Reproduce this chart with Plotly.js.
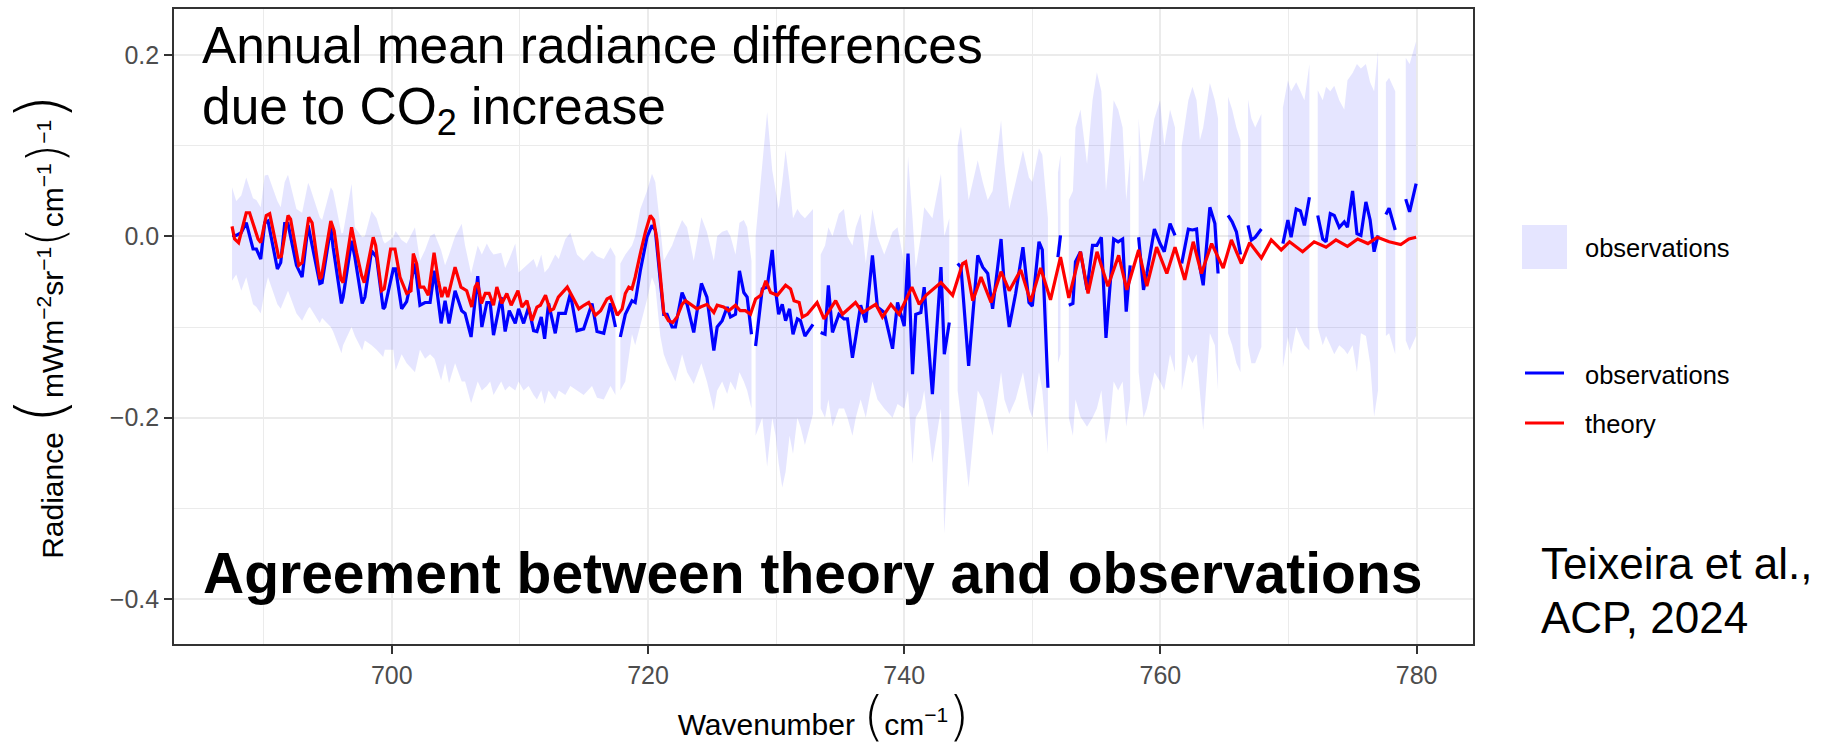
<!DOCTYPE html>
<html>
<head>
<meta charset="utf-8">
<script src="https://cdn.plot.ly/plotly-3.0.1.min.js"></script>
<style>html,body{margin:0;padding:0;background:#fff;}#chart{width:1840px;height:748px;}</style>
</head>
<body>
<div id="chart"></div>
<script>
// ---------- observations (null = missing channel) ----------
const obsX = [
687.53,687.86,688.25,688.64,689.17, 689.43,689.77,690.08,690.34,691.07,
691.33,691.64,691.90,692.56,693.00, 693.47,693.60,694.38,694.56,695.24,
695.42,696.07,696.20,696.86,697.12, 697.69,697.90,698.42,698.81,699.33,
699.46,700.12,700.30,700.77,701.16, 701.81,702.20,702.60,702.99,703.33,
703.85,704.16,704.47,704.94,705.46, 705.72,706.19,706.71,707.03,707.42,
707.68,707.94,708.54,708.85,709.17, 709.64,709.90,710.29,710.68,711.07,
711.33,711.67,711.93,712.24,712.76, 713.03,713.55,713.94,714.46,714.98,
715.63,716.02,716.55,717.07,717.46,
717.65,
717.84,718.23,718.75,719.00,719.40, 719.92,720.31,720.57,720.96,721.23,
721.49,721.88,722.14,722.66,723.05, 723.57,724.17,724.60,725.14,725.40,
725.79,726.18,726.44,726.83,727.14, 727.48,727.74,728.08,
728.24,
728.40,728.92,729.30,729.70,729.96, 730.20,730.48,730.74,731.05,731.32,
731.66,731.90,732.25,732.88,
733.20,
733.48,733.82,734.08,734.40,734.90, 735.30,735.57,735.96,736.22,736.60,
737.00,737.52,737.91,738.44,739.09, 739.48,740.00,740.30,740.65,740.90,
741.30,741.56,742.20,742.87,743.13, 743.52,
743.85,
744.17,744.43,745.03,745.74,746.13, 746.52,746.90,747.56,747.82,748.20,
748.70,749.27,749.74,750.00,750.52, 750.78,751.22,
751.60,
752.00,752.20,
752.50,
752.85,753.17,753.37,753.76,754.27, 754.70,755.04,755.39,755.75,756.09,
756.35,756.70,757.05,757.33,757.64,
757.95,
758.30,758.68,758.94,759.53,759.97, 760.30,760.75,761.14,
761.40,
761.66,762.18,762.50,762.82,763.08, 763.34,763.86,764.25,764.50,
764.90,
765.28,765.60,765.93,766.25,
766.55,
766.84,767.10,767.40,767.88,
768.70,
769.56,769.95,770.20,770.60,770.93, 771.24,771.63,
771.95,
772.28,772.67,772.93,773.26,773.57, 773.96,774.35,774.60,775.00,775.34,
775.65,776.04,776.37,776.68,776.99,
777.30,
777.60,777.85,778.33,
778.75,
779.15,779.45,779.96
];
const obsMean = [
0.001,0.001,0.004,0.015,-0.014, -0.014,-0.025,0.015,0.017,-0.036,
-0.029,0.014,0.014,-0.032,-0.045, 0.012,0.003,-0.052,-0.051,0.010,
-0.012,-0.074,-0.067,-0.005,-0.023, -0.074,-0.067,-0.016,-0.023,-0.080,
-0.078,-0.036,-0.036,-0.080,-0.072, -0.030,-0.076,-0.073,-0.073,-0.038,
-0.096,-0.071,-0.096,-0.060,-0.082, -0.085,-0.111,-0.044,-0.100,-0.073,
-0.073,-0.109,-0.067,-0.105,-0.082, -0.096,-0.080,-0.096,-0.078,-0.104,
-0.105,-0.089,-0.113,-0.074,-0.107, -0.085,-0.085,-0.063,-0.104,-0.102,
-0.074,-0.105,-0.107,-0.074,-0.100,
null,
-0.111,-0.086,-0.071,-0.073,-0.038, -0.001,0.012,0.007,-0.049,-0.086,
-0.086,-0.100,-0.100,-0.062,-0.075, -0.106,-0.052,-0.067,-0.126,-0.100,
-0.093,-0.078,-0.089,-0.086,-0.038, -0.062,-0.067,-0.108,
null,
-0.121,-0.058,-0.056,-0.015,-0.060, -0.086,-0.075,-0.093,-0.080,-0.108,
-0.091,-0.093,-0.110,-0.097,
null,
-0.106,-0.108,-0.054,-0.106,-0.086, -0.091,-0.091,-0.134,-0.111,-0.076,
-0.095,-0.021,-0.078,-0.084,-0.124, -0.073,-0.099,-0.019,-0.152,-0.086,
-0.084,-0.056,-0.174,-0.034,-0.130, -0.095,
null,
-0.030,-0.034,-0.143,-0.021,-0.034, -0.041,-0.080,-0.003,-0.056,-0.100,
-0.063,-0.012,-0.073,-0.077,-0.006, -0.015,-0.167,
null,
-0.023,0.001,
null,
-0.076,-0.074,-0.028,-0.017,-0.059, -0.010,-0.010,-0.001,-0.112,-0.050,
-0.003,-0.006,-0.003,-0.083,-0.032,
null,
-0.001,-0.059,-0.041,0.008,-0.008, -0.017,0.014,0.001,
null,
-0.030,0.008,0.007,0.008,-0.034, -0.054,0.032,0.014,-0.041,
null,
0.023,0.016,0.005,-0.020,
null,
0.012,-0.004,-0.001,0.008,
null,
-0.008,0.018,-0.001,0.030,0.028, 0.012,0.043,
null,
0.023,-0.003,-0.006,0.025,0.023, 0.010,0.016,0.010,0.050,0.003,
0.001,0.038,0.018,-0.017,0.001,
null,
0.024,0.031,0.007,
null,
0.041,0.027,0.058
];
const obsHigh = [
0.054,0.039,0.045,0.065,0.042, 0.040,0.032,0.067,0.068,0.039,
0.032,0.060,0.068,0.030,0.026, 0.059,0.055,0.021,0.018,0.054,
0.050,0.003,0.004,0.058,0.010, -0.001,0.000,0.028,0.020,-0.005,
-0.008,-0.001,0.006,-0.004,-0.008, 0.010,-0.027,-0.015,0.000,0.003,
-0.015,-0.032,-0.020,0.000,0.014, -0.010,-0.041,-0.010,-0.020,-0.008,
-0.015,-0.020,-0.018,-0.035,-0.025, -0.008,-0.040,-0.035,-0.030,-0.025,
-0.035,-0.020,-0.040,-0.035,-0.020, -0.025,-0.003,0.004,-0.020,-0.027,
-0.016,-0.022,-0.025,-0.012,-0.022,
null,
-0.030,-0.020,-0.010,0.000,0.030, 0.050,0.069,0.060,0.010,-0.027,
-0.020,-0.010,0.000,0.018,0.010, -0.027,0.021,0.005,-0.027,0.000,
0.005,0.007,0.000,-0.020,0.015, 0.018,0.010,-0.027,
null,
0.000,0.080,0.137,0.073,0.050, 0.030,0.060,0.095,0.060,0.020,
0.030,0.025,0.020,0.030,
null,
-0.020,-0.010,0.010,0.000,0.025, 0.030,0.000,-0.010,0.010,0.025,
-0.030,0.030,0.000,-0.020,0.005, 0.010,-0.030,0.088,0.020,-0.035,
0.000,0.032,0.020,0.069,0.000, 0.020,
null,
0.100,0.121,0.040,0.084,0.060, 0.040,0.050,0.128,0.080,0.030,
0.060,0.095,0.065,0.060,0.097, 0.090,0.020,
null,
0.070,0.090,
null,
0.040,0.050,0.120,0.140,0.080, 0.150,0.181,0.160,0.050,0.100,
0.150,0.140,0.120,0.040,0.090,
null,
0.130,0.060,0.080,0.130,0.150, 0.100,0.140,0.120,
null,
0.100,0.150,0.165,0.150,0.106, 0.120,0.169,0.150,0.130,
null,
0.154,0.140,0.120,0.106,
null,
0.151,0.130,0.120,0.135,
null,
0.142,0.172,0.160,0.170,0.160, 0.150,0.190,
null,
0.161,0.150,0.165,0.160,0.166, 0.150,0.140,0.172,0.180,0.190,
0.185,0.190,0.170,0.160,0.205,
null,
0.170,0.175,0.160,
null,
0.197,0.190,0.215
];
const obsLow = [
-0.049,-0.042,-0.060,-0.045,-0.075, -0.078,-0.085,-0.060,-0.045,-0.075,
-0.080,-0.070,-0.060,-0.085,-0.093, -0.080,-0.078,-0.096,-0.090,-0.100,
-0.105,-0.129,-0.120,-0.100,-0.110, -0.126,-0.115,-0.120,-0.125,-0.133,
-0.125,-0.125,-0.148,-0.130,-0.140, -0.150,-0.125,-0.135,-0.130,-0.135,
-0.159,-0.140,-0.162,-0.140,-0.160, -0.160,-0.184,-0.160,-0.170,-0.165,
-0.160,-0.175,-0.160,-0.170,-0.165, -0.170,-0.160,-0.170,-0.165,-0.175,
-0.180,-0.170,-0.185,-0.170,-0.180, -0.170,-0.175,-0.165,-0.170,-0.175,
-0.165,-0.178,-0.180,-0.165,-0.175,
null,
-0.170,-0.160,-0.108,-0.120,-0.100, -0.070,-0.045,-0.055,-0.110,-0.130,
-0.140,-0.152,-0.160,-0.130,-0.150, -0.163,-0.140,-0.160,-0.192,-0.170,
-0.160,-0.174,-0.160,-0.170,-0.150, -0.160,-0.170,-0.190,
null,
-0.220,-0.200,-0.254,-0.200,-0.220, -0.250,-0.277,-0.260,-0.220,-0.240,
-0.200,-0.210,-0.230,-0.196,
null,
-0.190,-0.200,-0.180,-0.210,-0.190, -0.190,-0.200,-0.220,-0.200,-0.180,
-0.200,-0.160,-0.180,-0.190,-0.200, -0.185,-0.190,-0.170,-0.251,-0.200,
-0.190,-0.170,-0.250,-0.190,-0.328, -0.220,
null,
-0.170,-0.200,-0.277,-0.170,-0.180, -0.200,-0.220,-0.150,-0.180,-0.196,
-0.180,-0.150,-0.190,-0.200,-0.150, -0.170,-0.240,
null,
-0.140,-0.130,
null,
-0.200,-0.220,-0.180,-0.199,-0.210, -0.200,-0.190,-0.170,-0.229,-0.200,
-0.160,-0.170,-0.160,-0.210,-0.180,
null,
-0.150,-0.200,-0.190,-0.150,-0.160, -0.170,-0.130,-0.150,
null,
-0.170,-0.130,-0.140,-0.130,-0.170, -0.214,-0.107,-0.120,-0.170,
null,
-0.107,-0.120,-0.140,-0.150,
null,
-0.120,-0.140,-0.140,-0.122,
null,
-0.145,-0.111,-0.130,-0.100,-0.110, -0.120,-0.126,
null,
-0.100,-0.120,-0.110,-0.120,-0.130, -0.120,-0.125,-0.130,-0.120,-0.150,
-0.107,-0.110,-0.140,-0.199,-0.170,
null,
-0.110,-0.107,-0.130,
null,
-0.115,-0.126,-0.110
];

// ---------- theory ----------
const theoryX = [
687.53,687.73,688.04,688.64,688.90,689.56,689.77,690.20,690.47,691.17,
691.38,691.90,692.10,692.74,693.00,693.52,693.78,694.38,694.51,695.24,
695.50,696.02,696.20,696.86,697.25,697.64,697.85,698.55,698.74,699.20,
699.41,699.91,700.25,700.64,701.16,701.50,701.68,701.94,702.20,702.50,
702.85,703.30,703.64,703.90,704.16,704.37,704.94,705.40,705.85,706.24,
706.50,706.70,707.00,707.30,707.60,707.94,708.20,708.60,708.98,709.32,
709.85,710.16,710.55,710.94,711.33,711.60,712.00,712.37,712.63,713.00,
713.70,714.20,714.60,715.00,715.37,715.90,716.30,716.80,717.07,717.60,
717.98,718.23,718.50,718.75,719.00,719.40,719.80,720.18,720.44,720.70,
720.96,721.23,721.60,721.93,722.27,722.66,722.92,723.30,723.83,724.10,
724.60,725.14,725.40,725.90,726.30,726.83,727.20,727.60,728.00,728.40,
728.80,729.20,729.57,730.10,730.74,731.13,731.40,731.80,732.05,732.44,
733.20,733.74,734.65,735.18,736.20,736.74,737.78,738.30,738.96,739.60,
740.60,741.17,741.70,742.87,743.78,744.56,744.80,745.35,746.00,746.78,
747.56,748.20,748.85,749.10,749.87,750.65,751.42,752.20,752.85,753.76,
754.35,755.05,755.90,756.74,757.38,758.30,758.94,759.70,760.50,761.14,
761.90,762.56,763.20,764.00,764.90,765.54,766.32,766.97,767.88,768.65,
769.43,770.08,771.10,772.00,772.93,773.70,774.60,775.40,776.20,776.94,
777.85,778.76,779.40,779.96
];
const theoryY = [
0.011,-0.003,-0.007,0.026,0.026,-0.003,-0.007,0.023,0.025,-0.023,
-0.022,0.023,0.019,-0.032,-0.029,0.021,0.015,-0.047,-0.045,0.017,
0.006,-0.047,-0.051,0.010,-0.018,-0.043,-0.051,-0.001,-0.010,-0.060,
-0.058,-0.014,-0.014,-0.045,-0.063,-0.060,-0.019,-0.030,-0.056,-0.056,
-0.065,-0.018,-0.049,-0.067,-0.056,-0.067,-0.034,-0.056,-0.060,-0.078,
-0.056,-0.051,-0.074,-0.063,-0.063,-0.076,-0.056,-0.074,-0.063,-0.076,
-0.060,-0.078,-0.071,-0.093,-0.078,-0.076,-0.065,-0.082,-0.080,-0.067,
-0.056,-0.069,-0.080,-0.076,-0.073,-0.087,-0.082,-0.069,-0.067,-0.087,
-0.080,-0.063,-0.056,-0.058,-0.045,-0.019,0.005,0.023,0.018,-0.004,
-0.045,-0.084,-0.093,-0.095,-0.089,-0.075,-0.071,-0.075,-0.080,-0.078,
-0.075,-0.084,-0.076,-0.078,-0.082,-0.076,-0.082,-0.082,-0.086,-0.069,
-0.065,-0.049,-0.062,-0.065,-0.054,-0.058,-0.071,-0.073,-0.089,-0.086,
-0.073,-0.091,-0.071,-0.086,-0.073,-0.084,-0.075,-0.089,-0.075,-0.086,
-0.056,-0.075,-0.065,-0.051,-0.065,-0.030,-0.028,-0.071,-0.045,-0.073,
-0.039,-0.060,-0.043,-0.037,-0.072,-0.035,-0.070,-0.023,-0.068,-0.017,
-0.063,-0.017,-0.055,-0.021,-0.059,-0.015,-0.055,-0.012,-0.041,-0.012,
-0.048,-0.006,-0.041,-0.008,-0.035,-0.004,-0.030,-0.007,-0.024,-0.004,
-0.015,-0.006,-0.017,-0.006,-0.012,-0.004,-0.011,-0.003,-0.008,-0.001,
-0.006,-0.009,-0.003,-0.001
];

// ---------- axes / labels ----------
const xTickVals = [700, 720, 740, 760, 780];
const yTickVals = [-0.4, -0.2, 0.0, 0.2];
const legendLabels = ['observations', 'observations', 'theory'];

// ---------- build ribbon polygons (one closed shape per gap-free run) ----------
const ribX = [], ribY = [];
let seg = [];
function flush() {
  if (!seg.length) return;
  seg.forEach(i => { ribX.push(obsX[i]); ribY.push(obsHigh[i]); });
  seg.slice().reverse().forEach(i => { ribX.push(obsX[i]); ribY.push(obsLow[i]); });
  ribX.push(null); ribY.push(null);
  seg = [];
}
for (let i = 0; i < obsX.length; i++) {
  if (obsHigh[i] === null || obsLow[i] === null) flush(); else seg.push(i);
}
flush();

const FONT = 'Liberation Sans, Arial, Helvetica, sans-serif';
const L = 174, R = 1473, T = 9, B = 644;
const px = X => (X - L) / (R - L);
const py = Y => (B - Y) / (B - T);
const paren = (ch, size) => '<span style="font-family:\'DejaVu Sans\';font-weight:200;font-size:' + size + 'px">' + ch + '</span>';

const traces = [
  { x: ribX, y: ribY, type: 'scatter', mode: 'lines', fill: 'toself',
    fillcolor: 'rgba(0,0,255,0.1)', line: { width: 0, color: 'rgba(0,0,0,0)' },
    hoverinfo: 'skip', showlegend: false, name: legendLabels[0] },
  { x: obsX, y: obsMean, type: 'scatter', mode: 'lines', connectgaps: false,
    line: { color: '#0000FF', width: 3.2 }, showlegend: false, name: legendLabels[1] },
  { x: theoryX, y: theoryY, type: 'scatter', mode: 'lines',
    line: { color: '#FF0000', width: 3.2 }, showlegend: false, name: legendLabels[2] }
];

function ann(text, X, Ytop, size, extra) {
  return Object.assign({ text: text, xref: 'paper', yref: 'paper', x: px(X), y: py(Ytop),
    xanchor: 'left', yanchor: 'top', showarrow: false, borderpad: 0, borderwidth: 0,
    font: { family: FONT, size: size, color: '#000000' } }, extra || {});
}

const annotations = [
  ann('Annual mean radiance differences', 202, 16, 51.5),
  ann('due to CO<sub>2</sub> increase', 202, 77, 51.5),
  ann('<b>Agreement between theory and observations</b>', 203, 541, 57),
  ann('Teixeira et al.,', 1541, 539, 44),
  ann('ACP, 2024', 1541, 593, 44),
  ann(legendLabels[0], 1585, 234, 25.5),
  ann(legendLabels[1], 1585, 361, 25.5),
  ann(legendLabels[2], 1585, 410, 25.5)
];

const shapes = [
  { type: 'rect', xref: 'paper', yref: 'paper', x0: px(1522), x1: px(1567), y0: py(269), y1: py(225),
    fillcolor: 'rgba(0,0,255,0.1)', line: { width: 0 } },
  { type: 'line', xref: 'paper', yref: 'paper', x0: px(1525), x1: px(1564), y0: py(373), y1: py(373),
    line: { color: '#0000FF', width: 3.2 } },
  { type: 'line', xref: 'paper', yref: 'paper', x0: px(1525), x1: px(1564), y0: py(423), y1: py(423),
    line: { color: '#FF0000', width: 3.2 } }
];

const layout = {
  width: 1840, height: 748,
  margin: { l: L, r: 1840 - R, t: T, b: 748 - B, pad: 0 },
  paper_bgcolor: '#FFFFFF', plot_bgcolor: '#FFFFFF',
  font: { family: FONT, color: '#000000' },
  showlegend: false,
  xaxis: {
    range: [683.0, 784.4], tickvals: xTickVals, ticktext: xTickVals.map(String),
    ticks: 'outside', ticklen: 8, tickwidth: 2, tickcolor: '#333333',
    tickfont: { family: FONT, size: 25, color: '#4D4D4D' },
    showgrid: true, gridcolor: '#EBEBEB', gridwidth: 2,
    minor: { dtick: 10, tick0: 0, showgrid: true, gridcolor: '#EBEBEB', gridwidth: 1.2 },
    zeroline: false, showline: true, mirror: true, linecolor: '#333333', linewidth: 1.6,
    title: { text: 'Wavenumber ' + paren('(', 54) + 'cm<sup>−1</sup>' + paren(')', 54),
      font: { family: FONT, size: 30, color: '#000000' }, standoff: 0 }
  },
  yaxis: {
    range: [-0.4496, 0.2507], tickvals: yTickVals, tickformat: '.1f',
    ticks: 'outside', ticklen: 8, tickwidth: 2, tickcolor: '#333333',
    tickfont: { family: FONT, size: 25, color: '#4D4D4D' },
    showgrid: true, gridcolor: '#EBEBEB', gridwidth: 2,
    minor: { dtick: 0.1, tick0: 0, showgrid: true, gridcolor: '#EBEBEB', gridwidth: 1.2 },
    zeroline: false, showline: true, mirror: true, linecolor: '#333333', linewidth: 1.6,
    title: { text: 'Radiance ' + paren('(', 66) + 'mWm<sup>−2</sup>sr<sup>−1</sup>' + paren('(', 50) +
      'cm<sup>−1</sup>' + paren(')', 50) + '<sup>−1</sup>' + paren(')', 66),
      font: { family: FONT, size: 30, color: '#000000' }, standoff: 37 }
  },
  annotations: annotations,
  shapes: shapes
};

Plotly.newPlot('chart', traces, layout, { displayModeBar: false, responsive: false });
</script>
</body>
</html>
